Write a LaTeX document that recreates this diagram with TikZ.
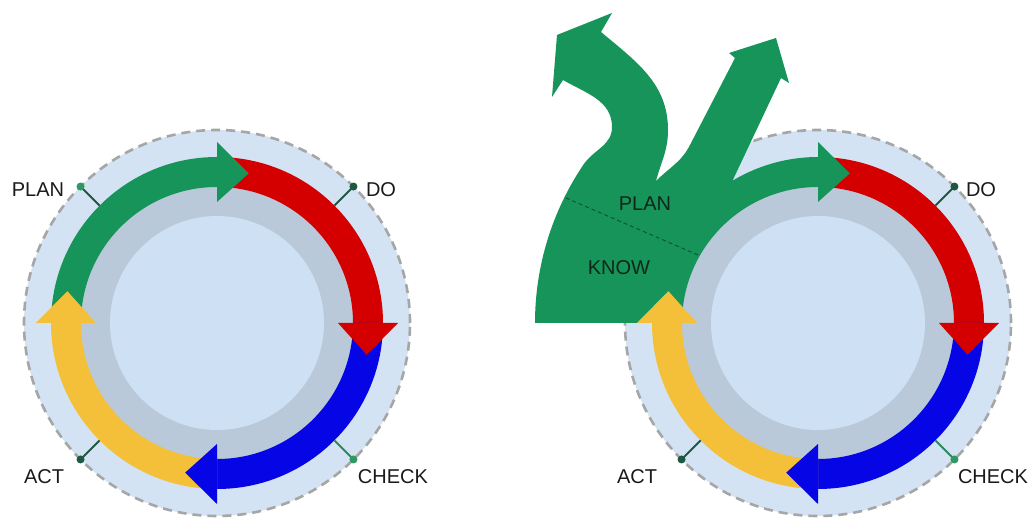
\documentclass[tikz,border=0pt]{standalone}
\usepackage{fontspec}
\setmainfont{Liberation Sans}
\usetikzlibrary{calc}
\definecolor{discbg}{HTML}{D3E3F3}
\definecolor{ringgray}{HTML}{B9C9D9}
\definecolor{innerbg}{HTML}{CDE0F4}
\definecolor{dashgray}{HTML}{A6A6A6}
\definecolor{pgreen}{HTML}{16945A}
\definecolor{pred}{HTML}{D40000}
\definecolor{pblue}{HTML}{0505E6}
\definecolor{pyellow}{HTML}{F4C03A}
\definecolor{tickdark}{HTML}{1E5842}
\definecolor{tickgreen}{HTML}{2D9862}
\definecolor{labeltext}{HTML}{1A1A1A}
\definecolor{greentext}{HTML}{10261A}
\definecolor{dashgreen}{HTML}{0B5230}
\newcommand{\pdcaband}[3]{\fill[#1] (#2:166pt) arc[start angle=#2, end angle=#3, radius=166pt] -- (#3:136pt) arc[start angle=#3, end angle=#2, radius=136pt] -- cycle;}
\newcommand{\pdcahead}[2]{\fill[#1] (#2:121pt) -- (#2:181pt) -- ({#2-12}:153pt) -- cycle;}
\newcommand{\pdcabase}{%
  \fill[discbg] (0,0) circle[radius=193pt];
  \draw[dashgray, line width=2.6pt, dash pattern=on 9pt off 6pt] (0,0) circle[radius=193pt];
  \fill[ringgray] (0,0) circle[radius=138pt];
  \fill[innerbg] (0,0) circle[radius=107pt];}
\newcommand{\pdcatick}[3]{% colour line, colour dot, angle
  \draw[#1, line width=2pt] (#3:166pt) -- (#3:193pt);
  \fill[#2] (#3:193pt) circle[radius=4pt];}
\tikzset{
  lbl/.style={inner sep=0pt, text=labeltext, font=\fontsize{20}{24}\selectfont},
  glbl/.style={inner sep=0pt, text=greentext, font=\fontsize{20}{24}\selectfont},
}
\begin{document}
\begin{tikzpicture}[x=1pt,y=1pt]
\useasboundingbox (0,0) rectangle (1031,518);
\fill[white] (0,0) rectangle (1031,518);
% ---------------- left cycle ----------------
\coordinate (CL) at (217,195);
\begin{scope}[shift={(CL)}]
  \pdcabase
  \pdcaband{pgreen}{180}{90}
  \pdcaband{pred}{90}{0}
  \pdcaband{pblue}{0}{-90}
  \pdcaband{pyellow}{-90}{-180}
  \pdcahead{pgreen}{90}
  \pdcahead{pred}{0}
  \pdcahead{pblue}{-90}
  \pdcahead{pyellow}{180}
  \pdcatick{tickdark}{tickgreen}{135}
  \pdcatick{tickdark}{tickdark}{45}
  \pdcatick{tickgreen!80!tickdark}{tickgreen}{-45}
  \pdcatick{tickdark}{tickdark}{-135}
\end{scope}
\node[lbl] (planL) at (38,328) {PLAN};
\node[lbl] (doL) at (381,328) {DO};
\node[lbl] (actL) at (44,41) {ACT};
\node[lbl] (checkL) at (393,41) {CHECK};
% ---------------- right cycle ----------------
\coordinate (CR) at (818,195);
\begin{scope}[shift={(CR)}]
  \pdcabase
  \pdcaband{pred}{90}{0}
  \pdcaband{pblue}{0}{-90}
  \pdcaband{pyellow}{-90}{-180}
\end{scope}
% big green KNOW / PLAN shape
\fill[pgreen] (535,195) arc[start angle=180, end angle=146, radius=283pt]
  to[out=56,in=-90] (612,391) to[out=90,in=-30] (563,438)
  -- (552,421) -- (557,483) -- (612,505) -- (601,486)
  to[out=-40,in=90] (668,388) to[out=-90,in=75] (656,337)
  to[out=45,in=-117] (690,373) -- (735,460) -- (729,465) -- (776,480)
  -- (789,435) -- (781,440)
  -- ($(CR)+(121:166pt)$) arc[start angle=121, end angle=90, radius=166pt]
  -- ($(CR)+(90:136pt)$) arc[start angle=90, end angle=180, radius=136pt]
  -- cycle;
\draw[dashgreen, line width=0.9pt, dash pattern=on 4pt off 3pt] (698,263) -- (566,320);
\begin{scope}[shift={(CR)}]
  \pdcahead{pgreen}{90}
  \pdcahead{pred}{0}
  \pdcahead{pblue}{-90}
  \pdcahead{pyellow}{180}
  \pdcatick{tickdark}{tickdark}{45}
  \pdcatick{tickgreen!80!tickdark}{tickgreen}{-45}
  \pdcatick{tickdark}{tickdark}{-135}
\end{scope}
\node[glbl] (planR) at (645,314) {PLAN};
\node[glbl] (knowR) at (619,250) {KNOW};
\node[lbl] (doR) at (981,328) {DO};
\node[lbl] (actR) at (637,41) {ACT};
\node[lbl] (checkR) at (993,41) {CHECK};
\end{tikzpicture}
\end{document}
